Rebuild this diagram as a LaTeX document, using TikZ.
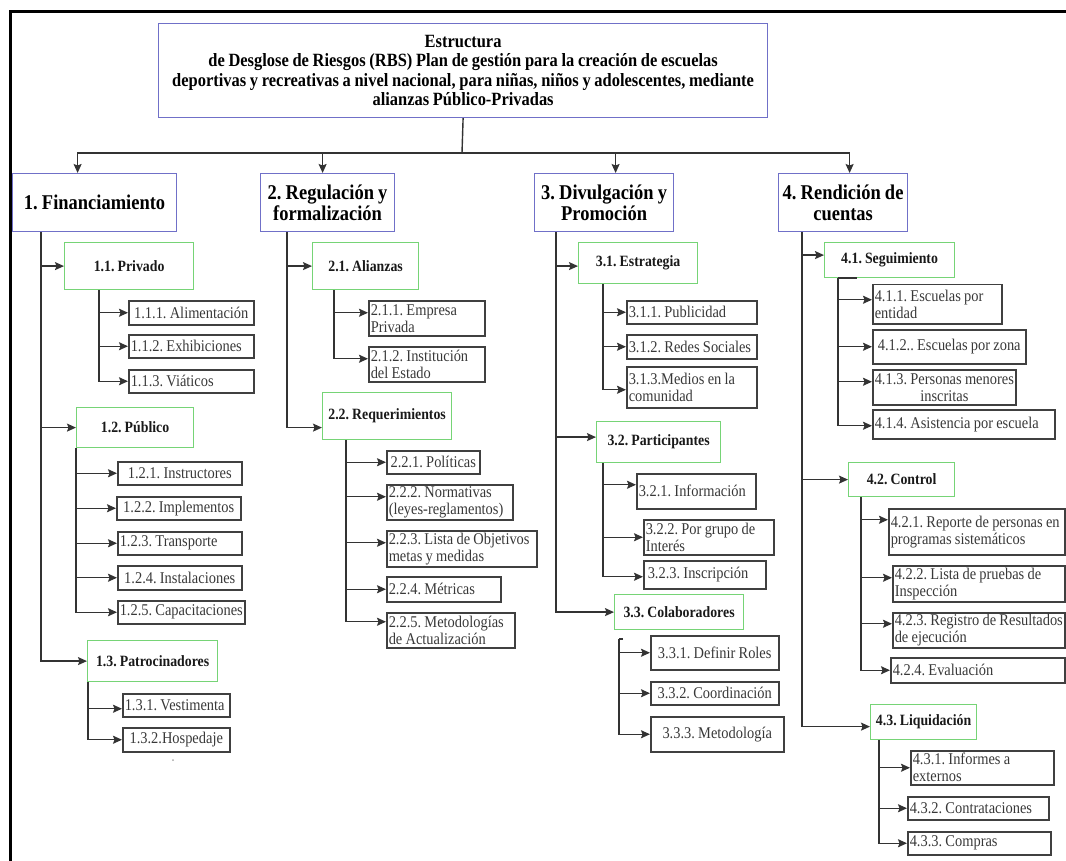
\documentclass[tikz,border=0pt]{standalone}
\usepackage{fontspec}
\setmainfont{Liberation Serif}[FakeStretch=0.88, WordSpace=0.9]
\usetikzlibrary{arrows.meta}

\definecolor{rbsblue}{RGB}{112,112,200}
\definecolor{rbsgreen}{RGB}{118,212,118}

\begin{document}
\frenchspacing
\begin{tikzpicture}[x=1pt,y=-1pt,
  every node/.style={anchor=north west, inner ysep=1pt, inner xsep=2pt},
  root/.style={draw=rbsblue, line width=1.2pt, align=center,
    font=\bfseries\fontsize{18.7}{19.5}\selectfont},
  cat/.style={draw=rbsblue, line width=1.2pt, align=center,
    font=\bfseries\fontsize{21}{21}\selectfont},
  sub/.style={draw=rbsgreen, line width=1.2pt, align=center, text=black!90,
    font=\bfseries\fontsize{15.7}{17}\selectfont},
  leaf/.style={draw=black!75, line width=1.5pt, text=black!78,
    font=\fontsize{16.4}{17}\selectfont},
  leafL/.style={leaf, text width=#1, align=flush left},
  leafC/.style={leaf, minimum width=#1, align=center},
  leafB/.style={leaf, minimum width=#1, align=left},
  conn/.style={draw=black!80, line width=1.4pt},
  arr/.style={conn, -{Stealth[length=9pt,width=8pt,inset=1.5pt]}},
]
\useasboundingbox (0,0) rectangle (1066,861);

% outer frame (top and left edges)
\draw[line width=3pt] (1066,12) -- (10,12) -- (10,861);

% ---------------- root ----------------
\node[root, minimum width=609, minimum height=94] (top) at (158,23)
  {Estructura\\de Desglose de Riesgos (RBS) Plan de gestión para la creación de escuelas\\deportivas y recreativas a nivel nacional, para niñas, niños y adolescentes, mediante\\alianzas Público-Privadas};

% ---------------- level 1 ----------------
\node[cat, minimum width=164, minimum height=58] (A1) at (12,173) {1. Financiamiento};
\node[cat, minimum width=134, minimum height=58] (A2) at (260,173) {2. Regulación y\\formalización};
\node[cat, minimum width=139, minimum height=58] (A3) at (534,173) {3. Divulgación y\\Promoción};
\node[cat, minimum width=129, minimum height=58] (A4) at (778,173) {4. Rendición de\\cuentas};

% ---------------- level 2 ----------------
\node[sub, minimum width=129, minimum height=47] (A11) at (64,242) {1.1. Privado};
\node[sub, minimum width=117, minimum height=40] (A12) at (76,407) {1.2. Público};
\node[sub, minimum width=130, minimum height=41] (A13) at (87,640) {1.3. Patrocinadores};
\node[sub, minimum width=106, minimum height=47] (B21) at (312,242) {2.1. Alianzas};
\node[sub, minimum width=129, minimum height=47] (B22) at (322,392) {2.2. Requerimientos};
\node[sub, minimum width=119, minimum height=41] (C31) at (578,242) {3.1. Estrategia};
\node[sub, minimum width=124, minimum height=41] (C32) at (596,421) {3.2. Participantes};
\node[sub, minimum width=129, minimum height=35] (C33) at (614,594) {3.3. Colaboradores};
\node[sub, minimum width=130, minimum height=35] (D41) at (824,242) {4.1. Seguimiento};
\node[sub, minimum width=106, minimum height=34] (D42) at (848,462) {4.2. Control};
\node[sub, minimum width=106, minimum height=35] (D43) at (870,704) {4.3. Liquidación};

% ---------------- level 3 ----------------
% 1. Financiamiento
\node[leafC=125, minimum height=24] (a111) at (128,300) {1.1.1. Alimentación};
\node[leafL=121, minimum height=23] (a112) at (128,334) {1.1.2. Exhibiciones};
\node[leafL=121, minimum height=23] (a113) at (128,369) {1.1.3. Viáticos};
\node[leafC=124, minimum height=23] (a121) at (117,461) {1.2.1. Instructores};
\node[leafC=124, minimum height=23] (a122) at (116,496) {1.2.2. Implementos};
\node[leafL=120, minimum height=23] (a123) at (117,531) {1.2.3. Transporte};
\node[leafC=124, minimum height=24] (a124) at (117,565) {1.2.4. Instalaciones};
\node[leafC=124, minimum height=23] (a125) at (117,600) {1.2.5. Capacitaciones};
\node[leafL=103, minimum height=23] (a131) at (122,693) {1.3.1. Vestimenta};
\node[leafC=107, minimum height=24] (a132) at (122,727) {1.3.2.Hospedaje};

% 2. Regulación y formalización
\node[leafL=112, minimum height=35] (b211) at (368,300) {2.1.1. Empresa\\Privada};
\node[leafL=112, minimum height=35] (b212) at (368,346) {2.1.2. Institución\\del Estado};
\node[leafC=93,  minimum height=23] (b221) at (386,450) {2.2.1. Políticas};
\node[leafL=122, minimum height=35] (b222) at (386,484) {2.2.2. Normativas\\(leyes-reglamentos)};
\node[leafL=146, minimum height=36] (b223) at (386,530) {2.2.3. Lista de Objetivos\\metas y medidas};
\node[leafL=110, minimum height=25] (b224) at (386,576) {2.2.4. Métricas};
\node[leafL=124, minimum height=35] (b225) at (386,612) {2.2.5. Metodologías\\de Actualización};

% 3. Divulgación y Promoción
\node[leafL=126, minimum height=23] (c311) at (626,300) {3.1.1. Publicidad};
\node[leafL=126, minimum height=24] (c312) at (626,334) {3.1.2. Redes Sociales};
\node[leafL=126, minimum height=41] (c313) at (626,366) {3.1.3.Medios en la\\comunidad};
\node[leafL=115, minimum height=35] (c321) at (636,473) {3.2.1. Información};
\node[leafL=126, minimum height=35] (c322) at (643,519) {3.2.2. Por grupo de\\Interés};
\node[leafL=118, minimum height=28] (c323) at (643,560) {\hspace*{2pt}3.2.3. Inscripción};
\node[leafC=128, minimum height=34] (c331) at (650,635) {3.3.1. Definir Roles};
\node[leafC=128, minimum height=23] (c332) at (650,681) {3.3.2. Coordinación};
\node[leafC=133, minimum height=35] (c333) at (650,716) {3.3.3. Metodología};

% 4. Rendición de cuentas
\node[leafL=125, minimum height=39] (d411) at (872,284) {4.1.1. Escuelas por\\entidad};
\node[leafC=153, minimum height=34] (d412) at (872,329) {4.1.2.. Escuelas por zona};
\node[leafC=140, minimum height=35] (d413) at (872,369) {4.1.3. Personas menores\\inscritas};
\node[leafL=178, minimum height=29] (d414) at (872,409) {4.1.4. Asistencia por escuela};
\node[leafL=172, minimum height=46] (d421) at (888,508) {4.2.1. Reporte de personas en\\programas sistemáticos};
\node[leafL=168, minimum height=36] (d422) at (892,565) {4.2.2. Lista de pruebas de\\Inspección};
\node[leafB=172, minimum height=35] (d423) at (892,612) {4.2.3. Registro de Resultados\\de ejecución};
\node[leafL=170, minimum height=25] (d424) at (890,657) {4.2.4. Evaluación};
\node[leafL=139, minimum height=34] (d431) at (910,750) {4.3.1. Informes a\\externos};
\node[leafL=137, minimum height=23] (d432) at (907,796) {4.3.2. Contrataciones};
\node[leafL=139, minimum height=23] (d433) at (907,831) {4.3.3. Compras};

% stray mark below 1.3.2
\fill[black!35] (173,760) circle (1);

% ---------------- connectors ----------------
% root to level 1
\coordinate (bus) at (462,153);
\draw[conn] (top.south) -- (bus);
\draw[arr] (bus) -| ([xshift=-17pt]A1.north);
\draw[arr] (bus) -| ([xshift=-5pt]A2.north);
\draw[arr] (bus) -| ([xshift=11.5pt]A3.north);
\draw[arr] (bus) -| ([xshift=6.5pt]A4.north);

% trunk positions
\coordinate (tA1) at (41,0);
\coordinate (tA2) at (287,0);
\coordinate (tA3) at (556,0);
\coordinate (tA4) at (802,0);
\coordinate (tA11) at (99,0);
\coordinate (tA12) at (76,0);
\coordinate (tA13) at (88,0);
\coordinate (tB21) at (334,0);
\coordinate (tB22) at (346,0);
\coordinate (tC31) at (603,0);
\coordinate (tC32) at (603,0);
\coordinate (tD41) at (838,0);
\coordinate (tD42) at (861,0);
\coordinate (tD43) at (879,0);

% level 1 to level 2
\draw[arr] (A1.south -| tA1) |- (A11.west);
\draw[arr] (A1.south -| tA1) |- (A12.west);
\draw[arr] (A1.south -| tA1) |- (A13.west);
\draw[arr] (A2.south -| tA2) |- (B21.west);
\draw[arr] (A2.south -| tA2) |- ([yshift=-11.5pt]B22.west);
\draw[arr] (A3.south -| tA3) |- ([yshift=-3pt]C31.west);
\draw[arr] (A3.south -| tA3) |- ([yshift=5pt]C32.west);
\draw[arr] (A3.south -| tA3) |- (C33.west);
\draw[arr] (A4.south -| tA4) |- ([yshift=5pt]D41.west);
\draw[arr] (A4.south -| tA4) |- (D42.west);
\draw[arr] (A4.south -| tA4) |- ([yshift=-4.5pt]D43.west);

% level 2 to level 3
\draw[arr] (A11.south -| tA11) |- (a111.west);
\draw[arr] (A11.south -| tA11) |- (a112.west);
\draw[arr] (A11.south -| tA11) |- (a113.west);
\draw[arr] (A12.south -| tA12) |- (a121.west);
\draw[arr] (A12.south -| tA12) |- (a122.west);
\draw[arr] (A12.south -| tA12) |- (a123.west);
\draw[arr] (A12.south -| tA12) |- (a124.west);
\draw[arr] (A12.south -| tA12) |- (a125.west);
\draw[arr] (A13.south -| tA13) |- ([yshift=-3.5pt]a131.west);
\draw[arr] (A13.south -| tA13) |- (a132.west);

\draw[arr] (B21.south -| tB21) |- ([yshift=5.5pt]b211.west);
\draw[arr] (B21.south -| tB21) |- ([yshift=5.5pt]b212.west);
\draw[arr] (B22.south -| tB22) |- (b221.west);
\draw[arr] (B22.south -| tB22) |- ([yshift=5.5pt]b222.west);
\draw[arr] (B22.south -| tB22) |- ([yshift=6pt]b223.west);
\draw[arr] (B22.south -| tB22) |- (b224.west);
\draw[arr] (B22.south -| tB22) |- ([yshift=8.5pt]b225.west);

\draw[arr] (C31.south -| tC31) |- (c311.west);
\draw[arr] (C31.south -| tC31) |- (c312.west);
\draw[arr] (C31.south -| tC31) |- ([yshift=-2.5pt]c313.west);
\draw[arr] (C32.south -| tC32) |- ([yshift=6.5pt]c321.west);
\draw[arr] (C32.south -| tC32) |- (c322.west);
\draw[arr] (C32.south -| tC32) |- ([yshift=-2pt]c323.west);
\coordinate (k33) at (619,639);
\draw[conn] ([xshift=4pt]k33) -- (k33);
\draw[arr] (k33) |- (c331.west);
\draw[arr] (k33) |- (c332.west);
\draw[arr] (k33) |- (c333.west);

\draw[conn] (D41.south -| tD41) -- ([xshift=19pt]D41.south -| tD41);
\draw[arr] (D41.south -| tD41) |- ([yshift=4.5pt]d411.west);
\draw[arr] (D41.south -| tD41) |- (d412.west);
\draw[arr] (D41.south -| tD41) |- ([yshift=5.5pt]d413.west);
\draw[arr] (D41.south -| tD41) |- ([yshift=-1.5pt]d414.west);
\draw[arr] (D42.south -| tD42) |- ([yshift=12pt]d421.west);
\draw[arr] (D42.south -| tD42) |- ([yshift=6pt]d422.west);
\draw[arr] (D42.south -| tD42) |- ([yshift=6.5pt]d423.west);
\draw[arr] (D42.south -| tD42) |- (d424.west);
\draw[arr] (D43.south -| tD43) |- (d431.west);
\draw[arr] (D43.south -| tD43) |- (d432.west);
\draw[arr] (D43.south -| tD43) |- (d433.west);
\end{tikzpicture}
\end{document}
